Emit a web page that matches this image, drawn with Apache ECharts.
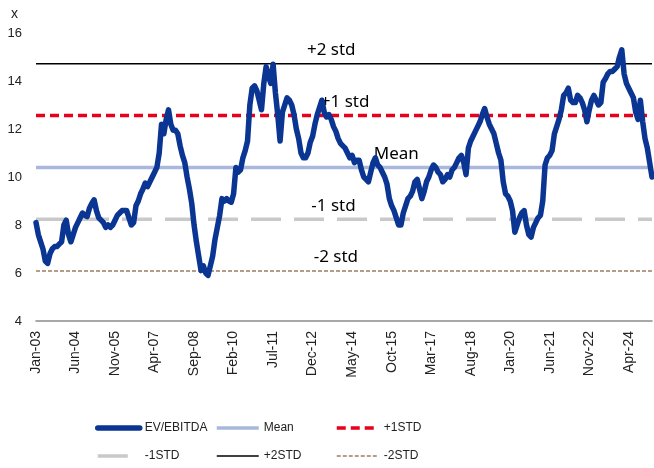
<!DOCTYPE html>
<html>
<head>
<meta charset="utf-8">
<script src="https://cdn.jsdelivr.net/npm/echarts@6/dist/echarts.min.js"></script>
<style>
html,body{margin:0;padding:0;background:#fff;}
#chart{width:654px;height:468px;}
</style>
</head>
<body>
<div id="chart"></div>
<script>
// Monthly EV/EBITDA, Jan-2003 .. Feb-2025 (index 0 = Jan-03)
const startYear = 2003;
const evEbitda = [
  8.1, 7.6, 7.3, 7.0, 6.5, 6.4, 6.8, 7.0, 7.1, 7.1, 7.2, 7.3,          // 2003
  8.0, 8.2, 7.6, 7.3, 7.6, 7.9, 8.1, 8.3, 8.5, 8.4, 8.35, 8.7,        // 2004
  8.9, 9.05, 8.6, 8.3, 8.2, 8.1, 7.9, 8.0, 7.9, 8.0, 8.2, 8.4,        // 2005
  8.5, 8.6, 8.6, 8.6, 8.3, 8.0, 8.1, 8.8, 9.0, 9.3, 9.5, 9.75,        // 2006
  9.6, 9.8, 10.0, 10.2, 10.4, 11.0, 12.2, 11.8, 12.4, 12.8, 12.2, 11.95, // 2007
  11.95, 11.8, 11.3, 10.9, 10.6, 10.0, 9.5, 8.9, 8.0, 7.3, 6.7, 6.1,  // 2008
  6.3, 6.0, 5.9, 6.3, 6.7, 7.4, 7.9, 8.4, 9.1, 9.0, 9.1, 9.0,         // 2009
  8.95, 9.3, 10.4, 10.2, 10.3, 10.8, 11.1, 11.5, 13.0, 13.7, 13.8, 13.6, // 2010
  13.2, 12.8, 13.9, 14.6, 14.2, 13.9, 14.7, 13.5, 12.6, 11.5, 12.7, 13.0, // 2011
  13.3, 13.2, 13.0, 12.6, 12.0, 11.6, 11.0, 10.8, 10.8, 11.0, 11.45, 11.7, // 2012
  12.2, 12.6, 12.9, 13.2, 12.7, 12.5, 12.6, 12.4, 12.1, 11.9, 11.6, 11.4, // 2013
  11.3, 11.2, 11.0, 10.8, 10.9, 10.6, 10.7, 10.7, 10.3, 10.0, 9.9, 9.8,  // 2014
  10.2, 10.6, 10.8, 10.5, 10.4, 10.2, 10.0, 9.7, 9.1, 8.8, 8.6, 8.3,     // 2015
  8.0, 8.0, 8.5, 8.8, 9.1, 9.2, 9.4, 9.8, 9.9, 9.5, 9.1, 9.4,            // 2016
  9.8, 10.0, 10.3, 10.5, 10.4, 10.2, 10.1, 9.8, 9.9, 10.1, 10.0, 10.3,   // 2017
  10.4, 10.6, 10.8, 10.9, 10.6, 10.1, 11.2, 11.5, 11.7, 11.9, 12.1, 12.3, // 2018
  12.6, 12.85, 12.5, 12.2, 12.0, 11.8, 11.4, 11.0, 10.7, 9.8, 9.3, 9.2,  // 2019
  9.0, 8.6, 7.7, 8.0, 8.3, 8.5, 8.6, 8.0, 7.6, 7.5, 7.9, 8.1,            // 2020
  8.3, 8.4, 9.0, 10.5, 10.8, 10.9, 11.1, 11.8, 12.1, 12.4, 12.8, 13.4,   // 2021
  13.5, 13.7, 13.2, 13.1, 13.1, 13.4, 13.3, 13.1, 12.8, 12.3, 12.8, 13.2, // 2022
  13.4, 13.2, 13.0, 13.1, 13.95, 14.1, 14.3, 14.4, 14.4, 14.5, 14.6, 15.0, // 2023
  15.3, 14.3, 13.9, 13.7, 13.5, 13.3, 12.7, 12.4, 13.2, 12.3, 11.6, 11.2, // 2024
  10.6, 10.0                                                             // 2025
];
const bandNames  = ['Mean', '+1STD', '-1STD', '+2STD', '-2STD'];
const bandValues = [10.4, 12.56, 8.24, 14.72, 6.08];
const bandLabels = ['Mean', '+1 std', '-1 std', '+2 std', '-2 std'];
const bandLabelMonth = [155, 133, 128, 127, 129];
const xTickLabels = ['Jan-03','Jun-04','Nov-05','Apr-07','Sep-08','Feb-10','Jul-11','Dec-12',
                     'May-14','Oct-15','Mar-17','Aug-18','Jan-20','Jun-21','Nov-22','Apr-24'];
const yTicks = [4, 6, 8, 10, 12, 14, 16];

const lastIdx = evEbitda.length - 1;
const mainData = evEbitda.map((v, i) => [i, v]);

const bandStyles = {
  'Mean':  {color: '#A9B7DD', width: 3.5, type: 'solid'},
  '+1STD': {color: '#E8001C', width: 3.5, type: [9, 5]},
  '-1STD': {color: '#C9C9C9', width: 3.5, type: [30, 13]},
  '+2STD': {color: '#000000', width: 1.5, type: 'solid'},
  '-2STD': {color: '#9E7E66', width: 1.5, type: [4, 2]}
};

const series = [{
  name: 'EV/EBITDA',
  type: 'line',
  data: mainData,
  symbol: 'none',
  smooth: false,
  lineStyle: {color: '#0B3592', width: 5.5, cap: 'round', join: 'round'},
  itemStyle: {color: '#0B3592'},
  z: 5
}];
bandNames.forEach((nm, k) => {
  const st = bandStyles[nm];
  series.push({
    name: nm,
    type: 'line',
    data: [[0, bandValues[k]], [lastIdx, bandValues[k]]],
    symbol: 'none',
    lineStyle: {color: st.color, width: st.width, type: st.type},
    itemStyle: {color: st.color},
    z: 3,
    markPoint: {
      symbol: 'circle', symbolSize: 0, silent: true,
      label: {
        show: true, formatter: bandLabels[k], position: 'top', distance: 5,
        color: '#000', fontSize: 17, fontFamily: 'Noto Sans'
      },
      data: [{coord: [bandLabelMonth[k], bandValues[k]]}]
    }
  });
});

const chart = echarts.init(document.getElementById('chart'), null, {renderer: 'canvas'});
const legendText = {color: '#222', fontSize: 12, fontFamily: 'Liberation Sans'};
const legendBase = {
  top: 417, orient: 'vertical', itemWidth: 42, itemHeight: 14, itemGap: 16,
  textStyle: legendText,
  itemStyle: {opacity: 0, borderWidth: 0},
  lineStyle: {width: 'inherit'}
};
chart.setOption({
  animation: false,
  backgroundColor: '#fff',
  grid: {left: 36, right: 2, top: 33, bottom: 147, containLabel: false},
  xAxis: {
    type: 'value', min: 0, max: lastIdx, interval: 17,
    axisLine: {show: true, lineStyle: {color: '#8C8C8C', width: 1.5}},
    axisTick: {show: false},
    splitLine: {show: false},
    axisLabel: {
      rotate: 90, margin: 10, showMaxLabel: false,
      color: '#222', fontSize: 14, fontFamily: 'Liberation Sans',
      formatter: (v) => {
        const k = Math.round(v / 17);
        return (v % 17 === 0 && xTickLabels[k]) ? xTickLabels[k] : '';
      }
    }
  },
  yAxis: {
    type: 'value', min: yTicks[0], max: yTicks[yTicks.length - 1], interval: 2,
    name: 'x', nameLocation: 'end', nameGap: 12,
    nameTextStyle: {color: '#222', fontSize: 14, fontFamily: 'Liberation Sans', align: 'right', padding: [0, 18, 0, 0]},
    axisLine: {show: false}, axisTick: {show: false}, splitLine: {show: false},
    axisLabel: {color: '#222', fontSize: 13, fontFamily: 'Liberation Sans', margin: 14}
  },
  legend: [
    Object.assign({left: 90, data: ['EV/EBITDA', '-1STD']}, legendBase),
    Object.assign({left: 210, data: ['Mean', '+2STD']}, legendBase),
    Object.assign({left: 330, data: ['+1STD', '-2STD']}, legendBase)
  ],
  series: series
});
</script>
</body>
</html>
